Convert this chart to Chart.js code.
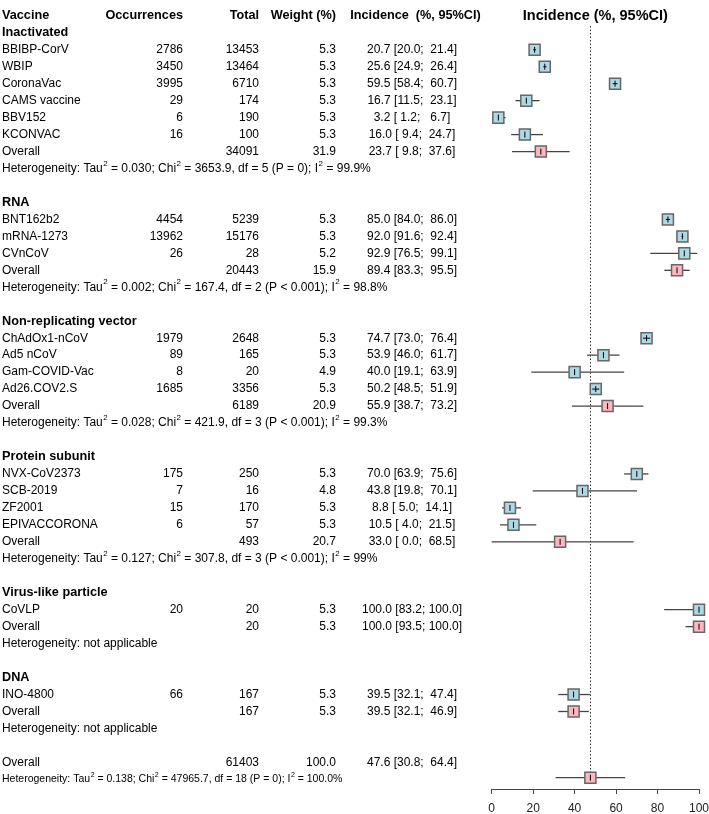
<!DOCTYPE html>
<html>
<head>
<meta charset="utf-8">
<script src="https://cdn.jsdelivr.net/npm/chart.js@4"></script>
<style>
  html, body { margin: 0; padding: 0; background: #fff; }
  #forest { display: block; }
</style>
</head>
<body>
<canvas id="forest" width="709" height="814"></canvas>
<script>
// ========================
//    data
// ========================
const groupNames = ['Inactivated', 'RNA', 'Non-replicating vector', 'Protein subunit', 'Virus-like particle', 'DNA'];

const studyNames = ['BBIBP-CorV', 'WBIP', 'CoronaVac', 'CAMS vaccine', 'BBV152', 'KCONVAC',
  'BNT162b2', 'mRNA-1273', 'CVnCoV',
  'ChAdOx1-nCoV', 'Ad5 nCoV', 'Gam-COVID-Vac', 'Ad26.COV2.S',
  'NVX-CoV2373', 'SCB-2019', 'ZF2001', 'EPIVACCORONA',
  'CoVLP',
  'INO-4800'];
const studyGroup  = [0, 0, 0, 0, 0, 0, 1, 1, 1, 2, 2, 2, 2, 3, 3, 3, 3, 4, 5];
const studyEvents = [2786, 3450, 3995, 29, 6, 16, 4454, 13962, 26, 1979, 89, 8, 1685, 175, 7, 15, 6, 20, 66];
const studyTotal  = [13453, 13464, 6710, 174, 190, 100, 5239, 15176, 28, 2648, 165, 20, 3356, 250, 16, 170, 57, 20, 167];
const studyWeight = [5.3, 5.3, 5.3, 5.3, 5.3, 5.3, 5.3, 5.3, 5.2, 5.3, 5.3, 4.9, 5.3, 5.3, 4.8, 5.3, 5.3, 5.3, 5.3];
const studyEst    = [20.7, 25.6, 59.5, 16.7, 3.2, 16.0, 85.0, 92.0, 92.9, 74.7, 53.9, 40.0, 50.2, 70.0, 43.8, 8.8, 10.5, 100.0, 39.5];
const studyLow    = [20.0, 24.9, 58.4, 11.5, 1.2, 9.4, 84.0, 91.6, 76.5, 73.0, 46.0, 19.1, 48.5, 63.9, 19.8, 5.0, 4.0, 83.2, 32.1];
const studyHigh   = [21.4, 26.4, 60.7, 23.1, 6.7, 24.7, 86.0, 92.4, 99.1, 76.4, 61.7, 63.9, 51.9, 75.6, 70.1, 14.1, 21.5, 100.0, 47.4];

const groupTotal  = [34091, 20443, 6189, 493, 20, 167];
const groupWeight = [31.9, 15.9, 20.9, 20.7, 5.3, 5.3];
const groupEst    = [23.7, 89.4, 55.9, 33.0, 100.0, 39.5];
const groupLow    = [9.8, 83.3, 38.7, 0.0, 93.5, 32.1];
const groupHigh   = [37.6, 95.5, 73.2, 68.5, 100.0, 46.9];
const groupHet = [
  'Heterogeneity: Tau^2 = 0.030; Chi^2 = 3653.9, df = 5 (P = 0); I^2 = 99.9%',
  'Heterogeneity: Tau^2 = 0.002; Chi^2 = 167.4, df = 2 (P < 0.001); I^2 = 98.8%',
  'Heterogeneity: Tau^2 = 0.028; Chi^2 = 421.9, df = 3 (P < 0.001); I^2 = 99.3%',
  'Heterogeneity: Tau^2 = 0.127; Chi^2 = 307.8, df = 3 (P < 0.001); I^2 = 99%',
  'Heterogeneity: not applicable',
  'Heterogeneity: not applicable'
];

const overallTotal = 61403;
const overallWeight = 100.0;
const overallEst = 47.6;
const overallLow = 30.8;
const overallHigh = 64.4;
const overallHet = 'Heterogeneity: Tau^2 = 0.138; Chi^2 = 47965.7, df = 18 (P = 0); I^2 = 100.0%';

const xTicks = [0, 20, 40, 60, 80, 100];

// ========================
//    row layout
// ========================
const groupRow = [], studyRow = [], groupOverallRow = [], hetRow = [];
let r = 1;
groupNames.forEach((g, gi) => {
  groupRow[gi] = r++;
  studyGroup.forEach((sg, i) => { if (sg === gi) studyRow[i] = r++; });
  groupOverallRow[gi] = r++;
  hetRow[gi] = r++;
  r++; // blank line
});
const finalRow = r;             // "Overall" text line
const finalHetRow = r + 1;
const finalBoxRow = r + 0.9;    // pooled box sits down by the het line in the original

const ROW_MIN = -0.384, ROW_MAX = 45.568;
const FONT = '"Liberation Sans", Arial, Helvetica, sans-serif';

const f1 = v => v.toFixed(1);
function ciText(e, l, h) {
  return (f1(e).padStart(5) + ' [' + f1(l).padStart(4) + '; ' + f1(h).padStart(5) + ']').trim();
}

// text with ^2 superscripts
function richText(ctx, str, x, y, size) {
  const parts = str.split('^2');
  ctx.textAlign = 'left';
  parts.forEach((p, i) => {
    ctx.font = size + 'px ' + FONT;
    ctx.fillText(p, x, y);
    x += ctx.measureText(p).width;
    if (i < parts.length - 1) {
      ctx.font = Math.round(size * 0.68) + 'px ' + FONT;
      ctx.fillText('2', x + 0.5, y - size * 0.42);
      x += ctx.measureText('2').width + 0.5;
    }
  });
}

function txt(ctx, s, x, y, align, bold) {
  ctx.font = bold ? 'bold 12.7px ' + FONT : '12px ' + FONT;
  ctx.textAlign = align;
  ctx.fillText(s, x, y);
}

// columns
const colName = 2, colOcc = 183, colTot = 259, colW = 336, colInc = 412;

// ========================
//    forest plugin
// ========================
const forestPlugin = {
  id: 'forest',
  beforeDatasetsDraw(chart) {
    const { ctx, scales: { x, y } } = chart;
    ctx.save();
    // reference line at pooled estimate
    const px = Math.round(x.getPixelForValue(overallEst)) + 0.5;
    ctx.strokeStyle = '#333';
    ctx.lineWidth = 1;
    ctx.setLineDash([1.5, 2]);
    ctx.beginPath();
    ctx.moveTo(px, y.getPixelForValue(0.6));
    ctx.lineTo(px, y.getPixelForValue(finalBoxRow));
    ctx.stroke();
    ctx.setLineDash([]);

    // CI lines
    ctx.strokeStyle = '#444';
    ctx.lineWidth = 1.3;
    const seg = (lo, hi, row) => {
      const yy = y.getPixelForValue(row);
      ctx.beginPath();
      ctx.moveTo(x.getPixelForValue(lo), yy);
      ctx.lineTo(x.getPixelForValue(hi), yy);
      ctx.stroke();
    };
    studyNames.forEach((n, i) => seg(studyLow[i], studyHigh[i], studyRow[i]));
    groupNames.forEach((g, gi) => seg(groupLow[gi], groupHigh[gi], groupOverallRow[gi]));
    seg(overallLow, overallHigh, finalBoxRow);
    ctx.restore();
  },
  afterDatasetsDraw(chart) {
    const { ctx, scales: { x, y } } = chart;
    ctx.save();
    ctx.strokeStyle = '#000';
    ctx.lineWidth = 1;
    const mark = (e, lo, hi, row) => {
      const px = x.getPixelForValue(e), yy = y.getPixelForValue(row);
      ctx.beginPath();
      ctx.moveTo(px, yy - 3);
      ctx.lineTo(px, yy + 3);
      ctx.stroke();
      const a = x.getPixelForValue(lo), b = x.getPixelForValue(hi);
      if (px - a < 5 && b - px < 5) {
        ctx.beginPath();
        ctx.moveTo(a, yy);
        ctx.lineTo(b, yy);
        ctx.stroke();
      }
    };
    studyNames.forEach((n, i) => mark(studyEst[i], studyLow[i], studyHigh[i], studyRow[i]));
    groupNames.forEach((g, gi) => mark(groupEst[gi], groupLow[gi], groupHigh[gi], groupOverallRow[gi]));
    mark(overallEst, overallLow, overallHigh, finalBoxRow);
    ctx.restore();
  },
  afterDraw(chart) {
    const { ctx, scales: { x, y } } = chart;
    ctx.save();
    ctx.fillStyle = '#000';
    ctx.textBaseline = 'middle';
    const Y = row => y.getPixelForValue(row);

    // headers
    txt(ctx, 'Vaccine', colName, Y(0), 'left', true);
    txt(ctx, 'Occurrences', colOcc, Y(0), 'right', true);
    txt(ctx, 'Total', colTot, Y(0), 'right', true);
    txt(ctx, 'Weight (%)', colW, Y(0), 'right', true);
    txt(ctx, 'Incidence  (%, 95%CI)', 415.5, Y(0), 'center', true);
    ctx.font = 'bold 14.5px ' + FONT;
    ctx.textAlign = 'center';
    ctx.fillText('Incidence (%, 95%CI)', (x.left + x.right) / 2, Y(0));

    groupNames.forEach((g, gi) => {
      txt(ctx, g, colName, Y(groupRow[gi]), 'left', true);
      const yo = Y(groupOverallRow[gi]);
      txt(ctx, 'Overall', colName, yo, 'left');
      txt(ctx, String(groupTotal[gi]), colTot, yo, 'right');
      txt(ctx, f1(groupWeight[gi]), colW, yo, 'right');
      txt(ctx, ciText(groupEst[gi], groupLow[gi], groupHigh[gi]), colInc, yo, 'center');
      richText(ctx, groupHet[gi], colName, Y(hetRow[gi]), 12);
    });

    studyNames.forEach((n, i) => {
      const yy = Y(studyRow[i]);
      txt(ctx, n, colName, yy, 'left');
      txt(ctx, String(studyEvents[i]), colOcc, yy, 'right');
      txt(ctx, String(studyTotal[i]), colTot, yy, 'right');
      txt(ctx, f1(studyWeight[i]), colW, yy, 'right');
      txt(ctx, ciText(studyEst[i], studyLow[i], studyHigh[i]), colInc, yy, 'center');
    });

    const yf = Y(finalRow);
    txt(ctx, 'Overall', colName, yf, 'left');
    txt(ctx, String(overallTotal), colTot, yf, 'right');
    txt(ctx, f1(overallWeight), colW, yf, 'right');
    txt(ctx, ciText(overallEst, overallLow, overallHigh), colInc, yf, 'center');
    richText(ctx, overallHet, colName, Y(finalHetRow), 10.5);
    ctx.restore();
  }
};

// ========================
//    chart
// ========================
const boxStyle = {
  pointStyle: 'rect',
  pointRadius: 7.8,
  pointHoverRadius: 7.8,
  borderColor: '#666',
  borderWidth: 1.5,
  clip: false
};

new Chart(document.getElementById('forest'), {
  type: 'scatter',
  data: {
    datasets: [
      {
        label: 'Studies',
        data: studyNames.map((n, i) => ({ x: studyEst[i], y: studyRow[i] })),
        backgroundColor: '#add8e6',
        ...boxStyle
      },
      {
        label: 'Overall',
        data: groupNames.map((g, gi) => ({ x: groupEst[gi], y: groupOverallRow[gi] }))
          .concat([{ x: overallEst, y: finalBoxRow }]),
        backgroundColor: '#ffb6c1',
        ...boxStyle
      }
    ]
  },
  options: {
    responsive: false,
    animation: false,
    devicePixelRatio: 1,
    events: [],
    layout: { padding: { left: 491.7, right: 10, top: 0, bottom: 0 } },
    plugins: { legend: { display: false }, tooltip: { enabled: false } },
    scales: {
      x: {
        type: 'linear',
        min: 0,
        max: 100,
        afterFit: s => { s.height = 25; s.paddingLeft = 0; s.paddingRight = 0; },
        afterBuildTicks: s => { s.ticks = xTicks.map(v => ({ value: v })); },
        ticks: { padding: 7, color: '#222', font: { family: FONT, size: 12 } },
        grid: { drawOnChartArea: false, tickLength: 5, color: '#444' },
        border: { color: '#444' }
      },
      y: { type: 'linear', display: false, reverse: true, min: ROW_MIN, max: ROW_MAX }
    }
  },
  plugins: [forestPlugin]
});
</script>
</body>
</html>
